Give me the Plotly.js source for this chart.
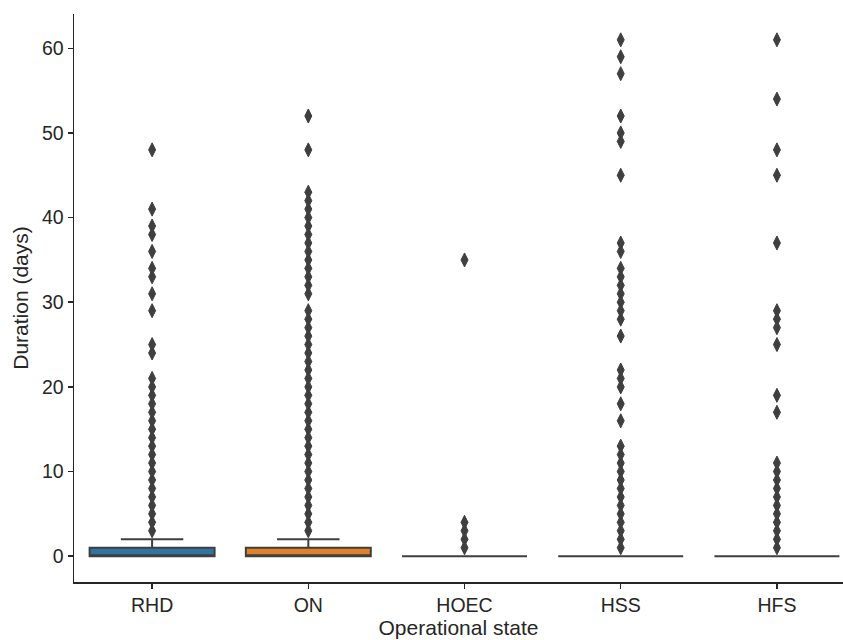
<!DOCTYPE html>
<html>
<head>
<meta charset="utf-8">
<script src="https://cdn.plot.ly/plotly-3.0.1.min.js"></script>
<style>
  html, body { margin: 0; padding: 0; background: #ffffff; }
  #chart { width: 843px; height: 640px; }
</style>
</head>
<body>
<div id="chart"></div>
<script>
// Categories (operational states)
var categories = ['RHD', 'ON', 'HOEC', 'HSS', 'HFS'];

// Box statistics per category (days)
var q1Values = [0, 0, 0, 0, 0];
var medianValues = [0, 0, 0, 0, 0];
var q3Values = [1, 1, 0, 0, 0];
var lowerWhisker = [0, 0, 0, 0, 0];
var upperWhisker = [2, 2, 0, 0, 0];

// Outliers (days) per category
var rhdOutliers = [3, 4, 5, 6, 7, 8, 9, 10, 11, 12, 13, 14, 15, 16, 17, 18, 19, 20, 21,
                   24, 25, 29, 31, 33, 34, 36, 38, 39, 41, 48];
var onOutliers = [3, 4, 5, 6, 7, 8, 9, 10, 11, 12, 13, 14, 15, 16, 17, 18, 19, 20, 21, 22,
                  23, 24, 25, 26, 27, 28, 29, 31, 32, 33, 34, 35, 36, 37, 38, 39, 40, 41,
                  42, 43, 48, 52];
var hoecOutliers = [1, 2, 3, 4, 35];
var hssOutliers = [1, 2, 3, 4, 5, 6, 7, 8, 9, 10, 11, 12, 13, 16, 18, 20, 21, 22, 26, 28,
                   29, 30, 31, 32, 33, 34, 36, 37, 45, 49, 50, 52, 57, 59, 61];
var hfsOutliers = [1, 2, 3, 4, 5, 6, 7, 8, 9, 10, 11, 17, 19, 25, 27, 28, 29, 37, 45, 48,
                   54, 61];

var outliers = [rhdOutliers, onOutliers, hoecOutliers, hssOutliers, hfsOutliers];

// Styles
var boxColors = ['#3274a1', '#e1812c', '#3a923a', '#c03d3e', '#9372b2'];
var edgeColor = '#3f3f3f';
var axisColor = '#262626';
var fontFamily = 'Liberation Sans, Arial, sans-serif';

var traces = [];
categories.forEach(function (cat, i) {
  traces.push({
    type: 'box',
    x: [cat],
    q1: [q1Values[i]],
    median: [medianValues[i]],
    q3: [q3Values[i]],
    lowerfence: [lowerWhisker[i]],
    upperfence: [upperWhisker[i]],
    boxpoints: false,
    width: 0.8,
    whiskerwidth: 0.5,
    fillcolor: boxColors[i],
    line: { color: edgeColor, width: 2 },
    showlegend: false,
    hoverinfo: 'skip'
  });
});
categories.forEach(function (cat, i) {
  traces.push({
    type: 'scatter',
    mode: 'markers',
    x: outliers[i].map(function () { return cat; }),
    y: outliers[i],
    marker: {
      symbol: 'diamond-tall',
      size: 10,
      color: edgeColor,
      line: { color: edgeColor, width: 1 }
    },
    showlegend: false,
    cliponaxis: false
  });
});

var layout = {
  width: 843,
  height: 640,
  margin: { l: 74, r: 0, t: 14, b: 58 },
  paper_bgcolor: '#ffffff',
  plot_bgcolor: '#ffffff',
  showlegend: false,
  boxmode: 'overlay',
  font: { family: fontFamily, color: axisColor, size: 19.5 },
  xaxis: {
    type: 'category',
    categoryorder: 'array',
    categoryarray: categories,
    range: [-0.5, 4.423],
    showline: true,
    linecolor: axisColor,
    linewidth: 1.5,
    ticks: 'outside',
    ticklen: 5,
    tickwidth: 1.5,
    tickcolor: axisColor,
    showgrid: false,
    zeroline: false,
    tickfont: { family: fontFamily, size: 19.5, color: axisColor },
    title: { text: 'Operational state', font: { family: fontFamily, size: 21, color: axisColor }, standoff: 3 }
  },
  yaxis: {
    range: [-3.05, 64.05],
    tickmode: 'array',
    tickvals: [0, 10, 20, 30, 40, 50, 60],
    ticktext: ['0', '10', '20', '30', '40', '50', '60'],
    showline: true,
    linecolor: axisColor,
    linewidth: 1.5,
    ticks: 'outside',
    ticklen: 5,
    tickwidth: 1.5,
    tickcolor: axisColor,
    showgrid: false,
    zeroline: false,
    tickfont: { family: fontFamily, size: 19.5, color: axisColor },
    title: { text: 'Duration (days)', font: { family: fontFamily, size: 21, color: axisColor }, standoff: 7 }
  }
};

Plotly.newPlot('chart', traces, layout, { displayModeBar: false, staticPlot: true });
</script>
</body>
</html>
